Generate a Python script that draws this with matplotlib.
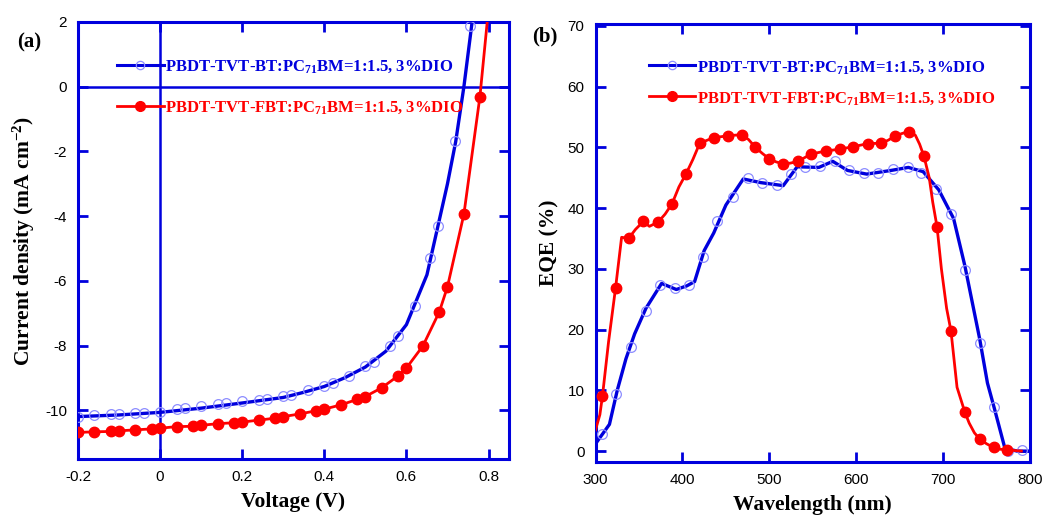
import matplotlib
matplotlib.use("Agg")
import matplotlib.pyplot as plt
from matplotlib.lines import Line2D

plt.rcParams['axes.unicode_minus'] = False
plt.rcParams['mathtext.fontset'] = 'custom'
plt.rcParams['mathtext.rm'] = 'Liberation Serif:bold'
plt.rcParams['mathtext.it'] = 'Liberation Serif:bold'
plt.rcParams['mathtext.bf'] = 'Liberation Serif:bold'

# ---------------- data: J-V (panel a) ----------------
v_bt_pts = [-0.2, -0.16, -0.12, -0.10, -0.06, -0.04, 0.0, 0.04, 0.06, 0.10, 0.14, 0.16,
            0.20, 0.24, 0.26, 0.30, 0.32, 0.36, 0.40, 0.42, 0.46, 0.50, 0.52, 0.56,
            0.58, 0.62, 0.657, 0.678, 0.719, 0.756]
j_bt_pts = [-10.19, -10.15, -10.11, -10.10, -10.08, -10.07, -10.05, -9.97, -9.94, -9.86,
            -9.79, -9.78, -9.72, -9.67, -9.65, -9.55, -9.53, -9.38, -9.23, -9.15, -8.93,
            -8.64, -8.50, -8.02, -7.69, -6.76, -5.28, -4.29, -1.69, 1.86]
v_bt_fit = [-0.2, -0.1, 0.0, 0.1, 0.2, 0.3, 0.35, 0.4, 0.45, 0.5, 0.55, 0.6, 0.65,
            0.7, 0.72, 0.74, 0.76, 0.78]
j_bt_fit = [-10.19, -10.14, -10.06, -9.93, -9.77, -9.60, -9.44, -9.26, -8.99, -8.66,
            -8.17, -7.35, -5.81, -3.0, -1.7, 0.0, 2.0, 4.0]
v_fbt = [-0.2, -0.16, -0.12, -0.10, -0.06, -0.02, 0.0, 0.04, 0.08, 0.10, 0.14, 0.18,
         0.20, 0.24, 0.28, 0.30, 0.34, 0.38, 0.40, 0.44, 0.48, 0.50, 0.54, 0.58, 0.60,
         0.64, 0.68, 0.70, 0.74, 0.779, 0.82]
j_fbt = [-10.68, -10.66, -10.65, -10.63, -10.60, -10.57, -10.55, -10.50, -10.49, -10.46,
         -10.41, -10.38, -10.36, -10.30, -10.24, -10.19, -10.11, -10.01, -9.96, -9.83,
         -9.66, -9.57, -9.30, -8.93, -8.69, -8.01, -6.96, -6.18, -3.94, -0.31, 5.0]

# ---------------- data: EQE (panel b) ----------------
wl_bt_pts = [307, 324, 341, 358, 374, 391, 408, 424, 440, 458, 475, 492, 509, 525, 541,
             558, 575, 592, 609, 625, 642, 659, 675, 692, 709, 725, 742, 759, 775, 791]
eqe_bt_pts = [2.8, 9.4, 17.2, 23.1, 27.3, 26.8, 27.3, 32.0, 37.9, 41.9, 44.9, 44.1, 43.8,
              45.6, 46.8, 47.0, 47.8, 46.2, 45.7, 45.7, 46.5, 46.7, 45.7, 43.2, 39.0,
              29.8, 17.8, 7.2, 0.0, 0.2]
wl_bt_line = [300, 316, 325, 335, 345, 358, 376, 393, 405, 414, 425, 436, 450, 470, 490,
              516, 532, 557, 573, 590, 612, 640, 660, 677, 695, 712, 725, 742, 751, 759,
              771, 785, 800]
eqe_bt_line = [1.2, 4.4, 10.0, 15.2, 19.3, 23.5, 27.6, 26.6, 27.2, 27.9, 33.0, 35.9,
               40.5, 44.8, 44.2, 43.7, 46.8, 46.7, 47.7, 46.2, 45.6, 46.2, 46.7, 46.0,
               43.0, 38.3, 30.5, 18.5, 11.2, 7.0, 0.5, 0.0, 0.0]
wl_fbt_pts = [308, 323, 338, 355, 372, 388, 404, 420, 436, 452, 468, 484, 500, 516, 533,
              548, 565, 581, 596, 613, 629, 645, 661, 678, 693, 709, 725, 742, 758, 774]
eqe_fbt_pts = [9.1, 26.8, 35.0, 37.8, 37.7, 40.7, 45.6, 50.7, 51.6, 51.9, 52.1, 50.0,
               48.1, 47.3, 47.7, 48.9, 49.4, 49.7, 50.1, 50.6, 50.7, 51.9, 52.6, 48.5,
               36.9, 19.8, 6.4, 2.0, 0.6, 0.2]
wl_fbt_line = [300, 305, 308, 315, 323, 330, 338, 346, 355, 362, 372, 380, 388, 396, 404,
               412, 420, 436, 452, 468, 476, 484, 492, 500, 508, 516, 524, 533, 548, 565,
               581, 596, 613, 629, 637, 645, 653, 661, 668, 673, 678, 684, 688, 693, 698,
               704, 709, 716, 725, 730, 736, 742, 750, 758, 766, 774, 790]
eqe_fbt_line = [3.5, 6.0, 9.1, 18.0, 26.8, 35.2, 35.0, 36.5, 37.8, 37.0, 37.7, 39.0, 40.7,
                43.5, 45.6, 48.0, 50.7, 51.6, 51.9, 52.1, 51.3, 50.0, 49.0, 48.1, 47.6,
                47.3, 47.4, 47.7, 48.9, 49.4, 49.7, 50.1, 50.6, 50.7, 51.2, 51.9, 52.3,
                52.6, 52.0, 50.5, 48.5, 45.0, 41.0, 36.9, 30.0, 23.5, 19.8, 10.5, 6.4,
                4.6, 3.0, 2.0, 1.2, 0.6, 0.3, 0.2, 0.0]

label_bt = 'PBDT-TVT-BT:PC$_{71}$BM=1:1.5, 3%DIO'
label_fbt = 'PBDT-TVT-FBT:PC$_{71}$BM=1:1.5, 3%DIO'

BLUE = '#0000dd'
LBLUE = '#8c8cff'
RED = '#ff0000'
SERIF = 'Liberation Serif'
SANS = 'Liberation Sans'

fig = plt.figure(figsize=(10.47, 5.23), dpi=100)
axa = fig.add_axes([0.0745, 0.1224, 0.4117, 0.8356])
axb = fig.add_axes([0.5688, 0.1166, 0.4150, 0.8374])


def style_axes(ax):
    for s in ax.spines.values():
        s.set_color(BLUE)
        s.set_linewidth(2.2)
    ax.tick_params(direction='in', length=7, width=2, color=BLUE, top=True, right=True,
                   labelsize=11, pad=8)
    for lab in ax.get_xticklabels() + ax.get_yticklabels():
        lab.set_fontfamily(SANS)


def legend_handles():
    h1 = Line2D([], [], color=BLUE, lw=2.2, marker='o', mfc='none', mec=LBLUE, ms=6, mew=0.9)
    h2 = Line2D([], [], color=RED, lw=2.0, marker='o', mfc=RED, mec=RED, ms=7)
    return [h1, h2]


# ---------------- panel (a) ----------------
axa.axhline(0, color=BLUE, lw=1.8, zorder=1)
axa.axvline(0, color=BLUE, lw=1.8, zorder=1)
axa.plot(v_bt_fit, j_bt_fit, color=BLUE, lw=2.4, zorder=3)
axa.plot(v_bt_pts, j_bt_pts, ls='none', marker='o', mfc='none', mec=LBLUE, ms=7, mew=0.9, zorder=4)
axa.plot(v_fbt, j_fbt, color=RED, lw=2.0, marker='o', ms=7.5, mfc=RED, mec=RED, zorder=5)
axa.set_xlim(-0.2, 0.85)
axa.set_ylim(-11.5, 2)
axa.set_xticks([-0.2, 0, 0.2, 0.4, 0.6, 0.8])
axa.set_xticklabels(['-0.2', '0', '0.2', '0.4', '0.6', '0.8'])
axa.set_yticks([-10, -8, -6, -4, -2, 0, 2])
style_axes(axa)
axa.set_xlabel('Voltage (V)', fontfamily=SERIF, fontweight='bold', fontsize=15.5, labelpad=6)
axa.set_ylabel('Current density (mA cm$^{-2}$)', fontfamily=SERIF, fontweight='bold',
               fontsize=15.5, labelpad=6)
leg = axa.legend(legend_handles(), [label_bt, label_fbt], loc='upper left',
                 bbox_to_anchor=(0.075, 0.932), frameon=False, handlelength=2.8,
                 handletextpad=0.1, labelspacing=1.45, borderaxespad=0,
                 prop={'family': SERIF, 'weight': 'bold', 'size': 12})
for t, c in zip(leg.get_texts(), [BLUE, RED]):
    t.set_color(c)
fig.text(0.0282, 0.918, '(a)', fontfamily=SERIF, fontweight='bold', fontsize=15,
         ha='center', va='center')

# ---------------- panel (b) ----------------
axb.plot(wl_bt_line, eqe_bt_line, color=BLUE, lw=2.4, zorder=3)
axb.plot(wl_bt_pts, eqe_bt_pts, ls='none', marker='o', mfc='none', mec=LBLUE, ms=7, mew=0.9, zorder=4)
axb.plot(wl_fbt_line, eqe_fbt_line, color=RED, lw=2.0, zorder=5)
axb.plot(wl_fbt_pts, eqe_fbt_pts, ls='none', marker='o', ms=7.5, mfc=RED, mec=RED, zorder=6)
axb.set_xlim(300, 800)
axb.set_ylim(-1.8, 70.3)
axb.set_xticks([300, 400, 500, 600, 700, 800])
axb.set_yticks([0, 10, 20, 30, 40, 50, 60, 70])
style_axes(axb)
axb.set_xlabel('Wavelength (nm)', fontfamily=SERIF, fontweight='bold', fontsize=15.5, labelpad=6)
axb.set_ylabel('EQE (%)', fontfamily=SERIF, fontweight='bold', fontsize=15.5, labelpad=6)
leg2 = axb.legend(legend_handles(), [label_bt, label_fbt], loc='upper left',
                  bbox_to_anchor=(0.107, 0.936), frameon=False, handlelength=2.8,
                  handletextpad=0.1, labelspacing=0.85, borderaxespad=0,
                  prop={'family': SERIF, 'weight': 'bold', 'size': 12})
for t, c in zip(leg2.get_texts(), [BLUE, RED]):
    t.set_color(c)
fig.text(0.520, 0.931, '(b)', fontfamily=SERIF, fontweight='bold', fontsize=15,
         ha='center', va='center')

fig.savefig('out.png', dpi=100)
